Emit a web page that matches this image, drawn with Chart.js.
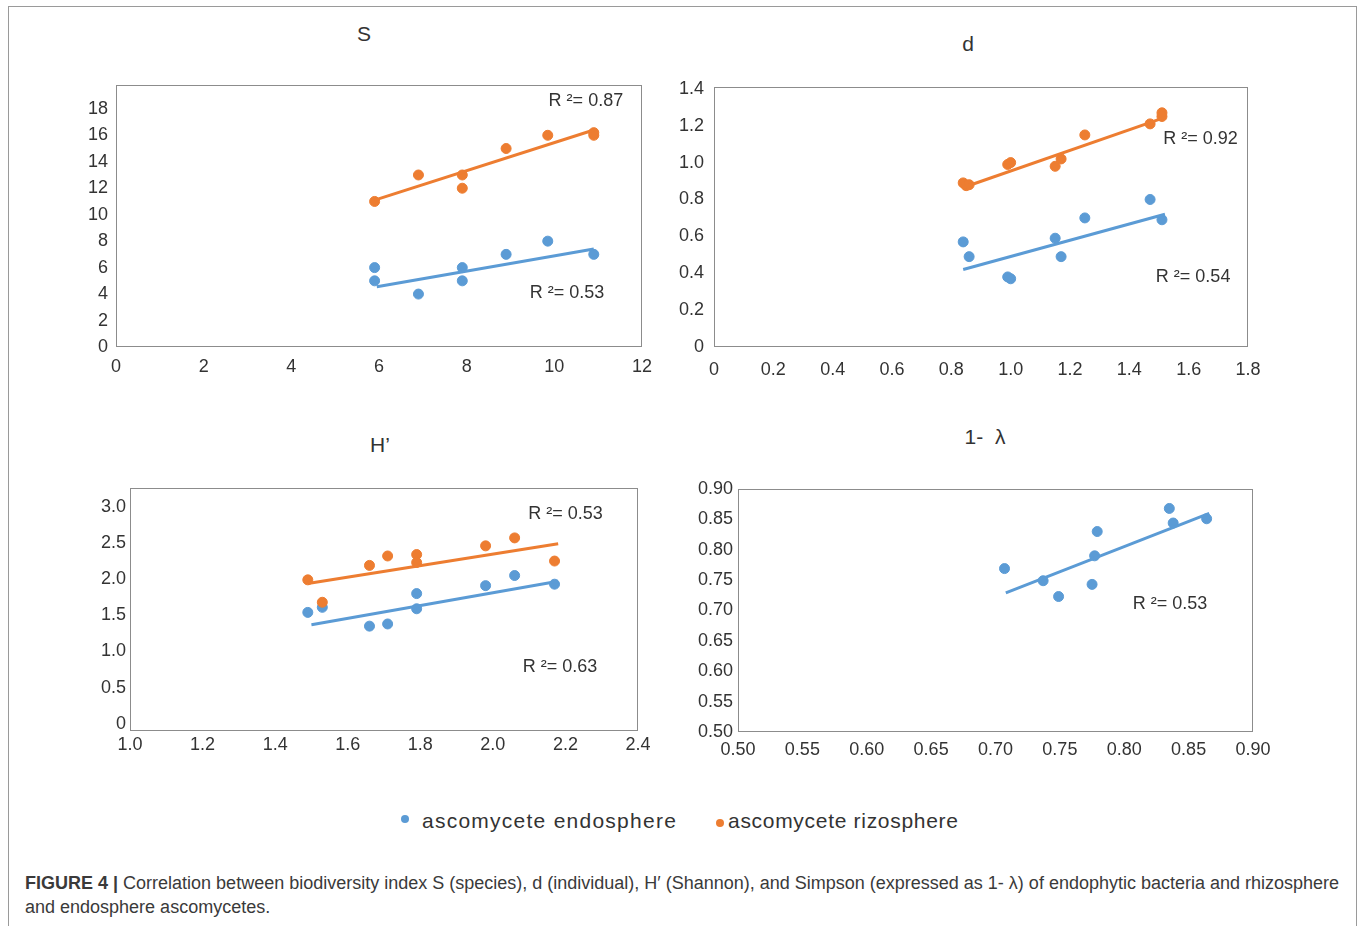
<!DOCTYPE html>
<html>
<head>
<meta charset="utf-8">
<script src="https://cdn.jsdelivr.net/npm/chart.js@4"></script>
<style>
  body { margin: 0; background: #fff; }
  #page { position: relative; width: 1360px; height: 926px; overflow: hidden; font-family: "Liberation Sans", Arial, sans-serif; color: #333; }
  #frame { position: absolute; left: 8px; top: 6px; width: 1347px; height: 940px; border: 1px solid #9a9a9a; }
  canvas { position: absolute; }
  .title { position: absolute; font-size: 21px; line-height: 24px; transform: translateX(-50%); white-space: nowrap; }
  .legend { position: absolute; top: 808px; font-size: 21px; line-height: 26px; white-space: nowrap; }
  .dot { position: absolute; width: 8px; height: 8px; border-radius: 50%; }
  .caption { position: absolute; left: 25px; font-size: 18px; line-height: 24px; white-space: nowrap; color: #3a3a3a; }
</style>
</head>
<body>
<div id="page">
  <div id="frame"></div>

  <div class="title" style="left:364px; top:22px;">S</div>
  <div class="title" style="left:968px; top:32px;">d</div>
  <div class="title" style="left:380px; top:433px;">H’</div>
  <div class="title" style="left:985px; top:425px;">1-&nbsp; λ</div>

  <canvas id="chartS" width="611" height="327" style="left:56px; top:60px;"></canvas>
  <canvas id="chartD" width="619" height="325" style="left:654px; top:62px;"></canvas>
  <canvas id="chartH" width="593" height="308" style="left:70px; top:463px;"></canvas>
  <canvas id="chartL" width="600" height="308" style="left:678px; top:464px;"></canvas>

  <div class="dot" style="left:401px; top:815px; background:#5B9BD5;"></div>
  <div class="legend" style="left:422px; letter-spacing:1.25px;">ascomycete endosphere</div>
  <div class="dot" style="left:716px; top:819px; background:#ED7D31;"></div>
  <div class="legend" style="left:728px; letter-spacing:0.7px;">ascomycete rizosphere</div>

  <div class="caption" style="top:871px;"><b>FIGURE 4 |</b> Correlation between biodiversity index S (species), d (individual), H′ (Shannon), and Simpson (expressed as 1- λ) of endophytic bacteria and rhizosphere</div>
  <div class="caption" style="top:895px;">and endosphere ascomycetes.</div>
</div>

<script>
// S (species)
const sEndoX = [5.9, 5.9, 6.9, 7.9, 7.9, 8.9, 9.85, 10.9];
const sEndoY = [6, 5, 4, 6, 5, 7, 8, 7];
const sRizoX = [5.9, 6.9, 7.9, 7.9, 8.9, 9.85, 10.9, 10.9];
const sRizoY = [11, 13, 13, 12, 15, 16, 16, 16.2];
const sEndoFitX = [5.95, 10.9];
const sEndoFitY = [4.55, 7.4];
const sRizoFitX = [5.9, 10.9];
const sRizoFitY = [11.1, 16.4];
const sXTicks = [0, 2, 4, 6, 8, 10, 12];
const sXLabels = ['0', '2', '4', '6', '8', '10', '12'];
const sYTicks = [0, 2, 4, 6, 8, 10, 12, 14, 16, 18];
const sYLabels = ['0', '2', '4', '6', '8', '10', '12', '14', '16', '18'];

// d (individual)
const dEndoX = [0.84, 0.86, 0.99, 1.0, 1.15, 1.17, 1.25, 1.47, 1.51];
const dEndoY = [0.57, 0.49, 0.38, 0.37, 0.59, 0.49, 0.70, 0.80, 0.69];
const dRizoX = [0.84, 0.85, 0.86, 0.99, 1.0, 1.15, 1.17, 1.25, 1.47, 1.51, 1.51];
const dRizoY = [0.89, 0.875, 0.88, 0.99, 1.0, 0.98, 1.02, 1.15, 1.21, 1.27, 1.25];
const dEndoFitX = [0.84, 1.52];
const dEndoFitY = [0.42, 0.72];
const dRizoFitX = [0.84, 1.52];
const dRizoFitY = [0.865, 1.245];
const dXTicks = [0, 0.2, 0.4, 0.6, 0.8, 1.0, 1.2, 1.4, 1.6, 1.8];
const dXLabels = ['0', '0.2', '0.4', '0.6', '0.8', '1.0', '1.2', '1.4', '1.6', '1.8'];
const dYTicks = [0, 0.2, 0.4, 0.6, 0.8, 1.0, 1.2, 1.4];
const dYLabels = ['0', '0.2', '0.4', '0.6', '0.8', '1.0', '1.2', '1.4'];

// H' (Shannon)
const hEndoX = [1.49, 1.53, 1.66, 1.71, 1.79, 1.79, 1.98, 2.06, 2.17];
const hEndoY = [1.54, 1.61, 1.35, 1.38, 1.80, 1.59, 1.91, 2.05, 1.93];
const hRizoX = [1.49, 1.53, 1.66, 1.71, 1.79, 1.79, 1.98, 2.06, 2.17];
const hRizoY = [1.99, 1.68, 2.19, 2.32, 2.34, 2.23, 2.46, 2.57, 2.25];
const hEndoFitX = [1.5, 2.18];
const hEndoFitY = [1.37, 1.97];
const hRizoFitX = [1.49, 2.18];
const hRizoFitY = [1.94, 2.49];
const hXTicks = [1.0, 1.2, 1.4, 1.6, 1.8, 2.0, 2.2, 2.4];
const hXLabels = ['1.0', '1.2', '1.4', '1.6', '1.8', '2.0', '2.2', '2.4'];
const hYTicks = [0, 0.5, 1.0, 1.5, 2.0, 2.5, 3.0];
const hYLabels = ['0', '0.5', '1.0', '1.5', '2.0', '2.5', '3.0'];

// 1 - lambda (Simpson)
const lEndoX = [0.707, 0.737, 0.749, 0.775, 0.777, 0.779, 0.835, 0.838, 0.864];
const lEndoY = [0.769, 0.749, 0.723, 0.743, 0.790, 0.830, 0.868, 0.844, 0.851];
const lEndoFitX = [0.708, 0.866];
const lEndoFitY = [0.729, 0.860];
const lTicks = [0.50, 0.55, 0.60, 0.65, 0.70, 0.75, 0.80, 0.85, 0.90];
const lLabels = ['0.50', '0.55', '0.60', '0.65', '0.70', '0.75', '0.80', '0.85', '0.90'];

const blue = '#5B9BD5';
const orange = '#ED7D31';
const textColor = '#333333';
const tickFont = { family: '"Liberation Sans", Arial, sans-serif', size: 18 };

const pts = (xs, ys) => xs.map((x, i) => ({ x: x, y: ys[i] }));

const framePlugin = {
    id: 'frame',
    beforeDatasetsDraw(chart) {
        const { ctx, chartArea: a } = chart;
        ctx.save();
        ctx.strokeStyle = '#8c8c8c';
        ctx.lineWidth = 1;
        ctx.strokeRect(Math.round(a.left) + 0.5, Math.round(a.top) + 0.5, Math.round(a.width) - 1, Math.round(a.height) - 1);
        ctx.restore();
    },
    afterDraw(chart, args, opts) {
        const { ctx, scales } = chart;
        ctx.save();
        ctx.fillStyle = textColor;
        ctx.font = '18px "Liberation Sans", Arial, sans-serif';
        ctx.textAlign = 'center';
        ctx.textBaseline = 'middle';
        (opts.notes || []).forEach(n => {
            ctx.fillText(n.text, scales.x.getPixelForValue(n.x), scales.y.getPixelForValue(n.y));
        });
        ctx.restore();
    }
};

function axis(min, max, ticks, labels, size, pad) {
    return {
        type: 'linear',
        min: min,
        max: max,
        grid: { display: false, drawTicks: false },
        border: { display: false },
        afterBuildTicks: s => { s.ticks = ticks.map(v => ({ value: v })); },
        afterFit: s => { if (s.isHorizontal()) s.height = size; else s.width = size; },
        ticks: {
            color: textColor,
            font: tickFont,
            padding: pad,
            maxRotation: 0,
            autoSkip: false,
            callback: (v, i) => labels[i]
        }
    };
}

function makeChart(id, datasets, x, y, notes) {
    new Chart(document.getElementById(id), {
        type: 'scatter',
        data: { datasets: datasets },
        options: {
            responsive: false,
            animation: false,
            devicePixelRatio: 1,
            layout: { padding: { top: 25, right: 25, left: 0, bottom: 0 } },
            scales: { x: x, y: y },
            plugins: {
                legend: { display: false },
                tooltip: { enabled: false },
                frame: { notes: notes }
            }
        },
        plugins: [framePlugin]
    });
}

function dots(xs, ys, color) {
    return { data: pts(xs, ys), backgroundColor: color, borderColor: color, pointRadius: 5, pointHoverRadius: 5 };
}
function fit(xs, ys, color) {
    return { data: pts(xs, ys), showLine: true, borderColor: color, borderWidth: 3, pointRadius: 0, pointHoverRadius: 0 };
}

makeChart('chartS', [
    fit(sRizoFitX, sRizoFitY, orange),
    fit(sEndoFitX, sEndoFitY, blue),
    dots(sRizoX, sRizoY, orange),
    dots(sEndoX, sEndoY, blue)
], axis(0, 12, sXTicks, sXLabels, 40, 9), axis(0, 19.8, sYTicks, sYLabels, 60, 8), [
    { text: 'R ²= 0.87', x: 10.72, y: 18.6 },
    { text: 'R ²= 0.53', x: 10.29, y: 4.1 }
]);

makeChart('chartD', [
    fit(dRizoFitX, dRizoFitY, orange),
    fit(dEndoFitX, dEndoFitY, blue),
    dots(dRizoX, dRizoY, orange),
    dots(dEndoX, dEndoY, blue)
], axis(0, 1.8, dXTicks, dXLabels, 40, 12), axis(0, 1.41, dYTicks, dYLabels, 60, 10), [
    { text: 'R ²= 0.92', x: 1.64, y: 1.13 },
    { text: 'R ²= 0.54', x: 1.615, y: 0.38 }
]);

makeChart('chartH', [
    fit(hRizoFitX, hRizoFitY, orange),
    fit(hEndoFitX, hEndoFitY, blue),
    dots(hRizoX, hRizoY, orange),
    dots(hEndoX, hEndoY, blue)
], axis(1.0, 2.4, hXTicks, hXLabels, 40, 3), axis(-0.1, 3.26, hYTicks, hYLabels, 60, 4), [
    { text: 'R ²= 0.53', x: 2.2, y: 2.9 },
    { text: 'R ²= 0.63', x: 2.185, y: 0.79 }
]);

makeChart('chartL', [
    fit(lEndoFitX, lEndoFitY, blue),
    dots(lEndoX, lEndoY, blue)
], axis(0.5, 0.9, lTicks, lLabels, 40, 7), axis(0.5, 0.9, lTicks, lLabels, 60, 5), [
    { text: 'R ²= 0.53', x: 0.8355, y: 0.711 }
]);
</script>
</body>
</html>
